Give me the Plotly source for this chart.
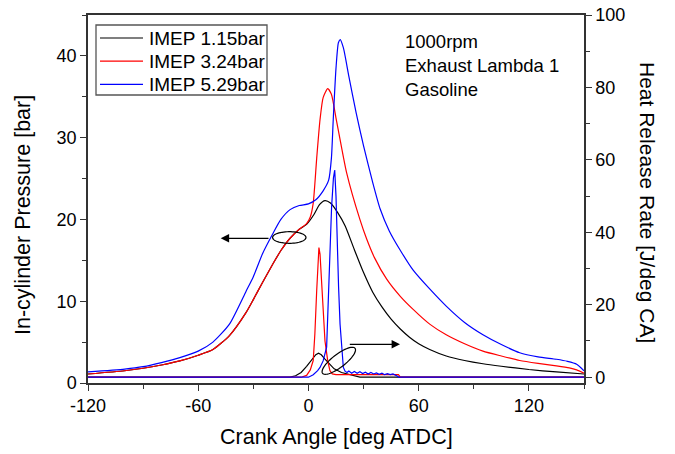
import numpy as np
import plotly.graph_objects as go

# ---------------- data ----------------
# In-cylinder pressure [bar]
p_black_ca = [-120, -100, -90, -80, -70, -60, -52, -43, -34, -30, -25, -19, -15, -10, -5, -1, 3, 6, 9, 12, 16, 20, 25, 30, 35, 40, 45, 50, 55, 60, 66, 75, 85, 95, 105, 120, 135, 150]
p_black = [1.1, 1.5, 1.8, 2.2, 2.7, 3.4, 4.1, 5.8, 8.6, 10.2, 12.3, 14.7, 16.2, 17.7, 18.8, 19.4, 20.6, 21.8, 22.3, 22.0, 20.8, 19.2, 16.3, 13.5, 11.1, 9.3, 7.8, 6.6, 5.6, 4.8, 4.1, 3.3, 2.75, 2.35, 2.05, 1.65, 1.35, 1.1]

p_red_ca = [-120, -100, -90, -80, -70, -60, -52, -43, -34, -30, -25, -19, -15, -10, -5, -1, 1, 2.6, 4.5, 6.3, 8, 10.5, 12.5, 15, 17.2, 20.8, 28, 31.7, 36, 42.6, 50, 57, 66, 75, 85, 95, 105, 115, 125, 135, 142, 146, 150]
p_red = [1.1, 1.5, 1.8, 2.2, 2.7, 3.4, 4.1, 5.8, 8.6, 10.2, 12.3, 14.7, 16.2, 17.7, 18.8, 19.5, 20.3, 22.0, 27.5, 32.2, 34.9, 36.0, 35.3, 32.4, 29.8, 25.7, 20.0, 17.6, 15.3, 12.7, 10.6, 9.0, 7.2, 5.9, 4.8, 3.9, 3.3, 2.75, 2.4, 2.1, 1.85, 1.6, 1.2]

p_blue_ca = [-120, -100, -90, -80, -70, -60, -52, -43, -34, -30, -25, -20, -15, -10, -5, 0, 4, 8, 11, 12.5, 13.5, 15, 16.3, 17.3, 19, 22, 26, 30, 35, 39, 44, 49.8, 57, 66, 75, 85, 95, 105, 115, 125, 135, 141, 146, 150]
p_blue = [1.35, 1.7, 2.0, 2.5, 3.1, 3.9, 5.0, 7.2, 11.2, 13.0, 15.8, 18.0, 20.0, 21.2, 21.7, 21.9, 22.4, 23.5, 24.8, 27.5, 32.2, 38.5, 41.6, 42.0, 41.0, 37.5, 33.0, 29.0, 24.5, 21.3, 18.6, 16.3, 13.8, 11.5, 9.4, 7.4, 5.9, 4.7, 3.7, 3.2, 2.9, 2.65, 2.3, 1.5]

# Heat release rate [J/deg CA]
h_black_ca = [-120, -10, -7, -4, -1, 2, 4, 5.5, 7, 9, 11, 14, 18, 22, 26, 28, 150]
h_black = [0, 0, 0.4, 1.3, 3.0, 5.0, 6.2, 6.6, 6.2, 5.0, 3.8, 2.3, 1.3, 0.8, 0.3, 0, 0]

h_red_ca = [-120, -4, -1, 1, 2.6, 3.5, 4.5, 5.2, 5.7, 6.3, 7.2, 8, 9, 10.5, 11.7, 13, 15, 49, 50, 150]
h_red = [0, 0, 0.5, 2.0, 4.6, 12, 24, 32, 35.8, 34, 26.7, 19, 10, 4.5, 1.8, 0.9, 0.7, 0.7, 0, 0]

h_blue_ca = [-120, 0, 2.6, 5, 6.3, 8, 9.9, 11.4, 12.6, 13.6, 14.3, 15.0, 15.6, 16.4, 17.2, 18.1, 19, 20, 21, 22, 23.5, 25, 26.5, 28, 29.5, 31, 32.5, 34, 35.5, 37, 38.5, 40, 41.5, 43, 44.5, 46, 47.5, 48.5, 49, 150]
h_blue = [0, 0, 0.7, 1.8, 2.7, 4.5, 8.3, 28.6, 47, 55, 57.2, 50, 37.8, 25, 14.7, 7, 2.7, 1.6, 1.3, 1.7, 1.1, 1.6, 1.1, 1.5, 1.0, 1.4, 0.9, 1.3, 0.9, 1.2, 0.8, 1.1, 0.7, 1.0, 0.7, 0.9, 0.6, 0.3, 0, 0]

names = ["IMEP 1.15bar", "IMEP 3.24bar", "IMEP 5.29bar"]
colors = ["#000000", "#ff0000", "#0000ff"]

x_tickvals = [-120, -60, 0, 60, 120]
x_ticktext = ["-120", "-60", "0", "60", "120"]

# ---------------- figure ----------------
FONT = "Liberation Sans, Arial, sans-serif"
fig = go.Figure()

pressure = [(p_black_ca, p_black), (p_red_ca, p_red), (p_blue_ca, p_blue)]
hrr = [(h_black_ca, h_black), (h_red_ca, h_red), (h_blue_ca, h_blue)]

for (ca, p), name, c in zip(pressure, names, colors):
    fig.add_trace(go.Scatter(x=ca, y=p, mode="lines", name=name, showlegend=False,
                             line=dict(color=c, width=1.2, shape="spline", smoothing=0.6),
                             yaxis="y"))
for (ca, h), name, c in zip(hrr, names, colors):
    fig.add_trace(go.Scatter(x=ca, y=h, mode="lines", name=name, showlegend=False,
                             line=dict(color=c, width=1.2),
                             yaxis="y2"))

FIG_W, FIG_H = 675, 454
# plot area in pixels
L, R, T, B = 88, 584, 15, 383
W, H = R - L, B - T


def px2paper(x, y):
    return (x - L) / W, (B - y) / H


def ellipse_path(cx, cy, rx, ry, ang_deg):
    t = np.linspace(0, 2 * np.pi, 60)
    a = np.deg2rad(ang_deg)
    xs = cx + rx * np.cos(t) * np.cos(a) - ry * np.sin(t) * np.sin(a)
    ys = cy + rx * np.cos(t) * np.sin(a) + ry * np.sin(t) * np.cos(a)
    pts = [px2paper(x, y) for x, y in zip(xs, ys)]
    return "M " + " L ".join(f"{x:.5f},{y:.5f}" for x, y in pts) + " Z"


shapes = [
    dict(type="path", xref="paper", yref="paper",
         path=ellipse_path(289.3, 237.5, 16.7, 5.8, 0), line=dict(color="black", width=1.2)),
    dict(type="path", xref="paper", yref="paper",
         path=ellipse_path(338.8, 360.8, 20.5, 6.5, -37.6), line=dict(color="black", width=1.2)),
]

annotations = []

# legend box (drawn as a framed key)
x0, y0 = px2paper(96, 95)
x1, y1 = px2paper(267, 25)
shapes.append(dict(type="rect", xref="paper", yref="paper", x0=x0, y0=y0, x1=x1, y1=y1,
                   line=dict(color="#555555", width=1.3), fillcolor="white", layer="above"))
for i, (name, c) in enumerate(zip(names, colors)):
    yy = 38 + i * 23.2
    lx0, ly = px2paper(100, yy)
    lx1, _ = px2paper(143, yy)
    shapes.append(dict(type="line", xref="paper", yref="paper", x0=lx0, x1=lx1, y0=ly, y1=ly,
                       line=dict(color=c, width=1.2), layer="above"))
    tx, _ = px2paper(147, yy)
    annotations.append(dict(x=tx, y=ly, xref="paper", yref="paper", xanchor="left", yanchor="middle",
                            showarrow=False, text=name,
                            font=dict(family=FONT, size=19, color="black")))

hx, hy = px2paper(220.7, 238.3)
annotations.append(dict(x=hx, y=hy, xref="paper", yref="paper", ax=49.3, ay=0, text="",
                        showarrow=True, arrowhead=2, arrowsize=1.4, arrowwidth=1.2, arrowcolor="black"))
hx, hy = px2paper(400, 344.3)
annotations.append(dict(x=hx, y=hy, xref="paper", yref="paper", ax=-51.7, ay=0, text="",
                        showarrow=True, arrowhead=2, arrowsize=1.4, arrowwidth=1.2, arrowcolor="black"))
tx, ty = px2paper(403, 29)
annotations.append(dict(x=tx, y=ty, xref="paper", yref="paper", xanchor="left", yanchor="top",
                        align="left", showarrow=False,
                        text="1000rpm<br>Exhaust Lambda 1<br>Gasoline",
                        font=dict(family=FONT, size=18.5, color="black")))
# axis titles
annotations.append(dict(x=0.5, y=px2paper(0, 437)[1], xref="paper", yref="paper",
                        xanchor="center", yanchor="middle",
                        showarrow=False, text="Crank Angle [deg ATDC]",
                        font=dict(family=FONT, size=21.5, color="black")))
annotations.append(dict(x=px2paper(23, 0)[0], y=px2paper(0, 215)[1], xref="paper", yref="paper",
                        xanchor="center", yanchor="middle",
                        showarrow=False, text="In-cylinder Pressure [bar]", textangle=-90,
                        font=dict(family=FONT, size=21.5, color="black")))
annotations.append(dict(x=px2paper(648, 0)[0], y=px2paper(0, 202)[1], xref="paper", yref="paper",
                        xanchor="center", yanchor="middle",
                        showarrow=False, text="Heat Release Rate [J/deg CA]", textangle=90,
                        font=dict(family=FONT, size=21, color="black")))

axis_common = dict(showgrid=False, zeroline=False, showline=True, linecolor="#333333", linewidth=1.5,
                   ticks="outside", ticklen=6, tickwidth=1.3, tickcolor="#333333", automargin=False,
                   ticklabeloverflow="allow",
                   tickfont=dict(family=FONT, size=18, color="black"))

fig.update_layout(
    width=FIG_W, height=FIG_H,
    margin=dict(l=L, r=FIG_W - R, t=T, b=FIG_H - B, autoexpand=False),
    paper_bgcolor="white", plot_bgcolor="white",
    showlegend=False,
    xaxis=dict(range=[-120, 150], tickmode="array", tickvals=x_tickvals, ticktext=x_ticktext,
               mirror=True,
               minor=dict(ticks="outside", dtick=30, tick0=-120, ticklen=4, tickcolor="#333333"),
               **axis_common),
    yaxis=dict(range=[0, 45], tick0=0, dtick=10, mirror=False,
               minor=dict(ticks="outside", dtick=5, ticklen=4, tickcolor="#333333"),
               **axis_common),
    yaxis2=dict(range=[-1.6, 100], tick0=0, dtick=20, overlaying="y", side="right",
                minor=dict(ticks="outside", dtick=10, ticklen=4, tickcolor="#333333"),
                **axis_common),
    shapes=shapes,
    annotations=annotations,
)

fig.write_html("out.html", config={"displayModeBar": False},
               post_script="document.body.style.margin='0';document.body.style.overflow='hidden';")
